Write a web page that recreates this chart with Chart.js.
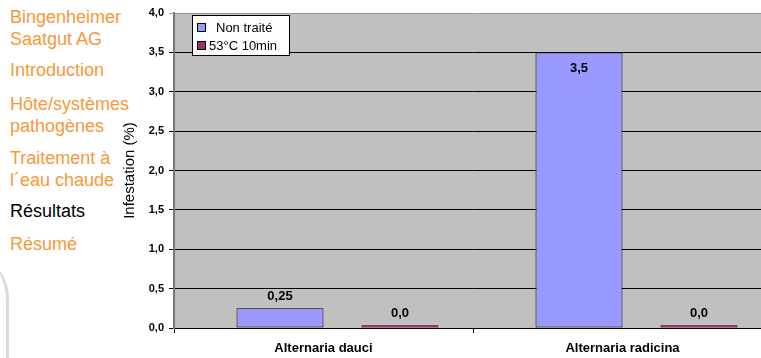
<!DOCTYPE html>
<html>
<head>
<meta charset="utf-8">
<script src="https://cdn.jsdelivr.net/npm/chart.js@4/dist/chart.umd.min.js"></script>
<style>
    html, body { margin: 0; padding: 0; background: #fff; }
    body { width: 761px; height: 358px; overflow: hidden; position: relative; font-family: Arial, "Liberation Sans", sans-serif; }
    .nav { position: absolute; left: 10px; font-size: 18px; line-height: 22px; color: #F7993A; white-space: nowrap; }
    .nav.active { color: #000; }
    .swoosh { position: absolute; left: -40px; top: 250px; width: 46px; height: 160px; border-right: 3px solid rgba(150,150,150,0.35); border-radius: 0 60px 0 0; }
    #wrap { position: absolute; left: 100px; top: 0; width: 672px; height: 358px; }
    #infestationChart { display: block; width: 672px; height: 358px; }
</style>
</head>
<body>
<div class="swoosh"></div>
<div class="nav" style="top:6px">Bingenheimer<br>Saatgut AG</div>
<div class="nav" style="top:59px">Introduction</div>
<div class="nav" style="top:93px">Hôte/systèmes<br>pathogènes</div>
<div class="nav" style="top:147px">Traitement à<br>l´eau chaude</div>
<div class="nav active" style="top:200px">Résultats</div>
<div class="nav" style="top:233px">Résumé</div>
<div id="wrap"><canvas id="infestationChart" width="672" height="358"></canvas></div>
<script>
    // Data
    const categories = ['Alternaria dauci', 'Alternaria radicina'];
    const seriesNames = ['Non traité', '53°C 10min'];
    const untreated = [0.25, 3.5];
    const hotWater = [0.0, 0.0];
    const yTicks = [0, 0.5, 1, 1.5, 2, 2.5, 3, 3.5, 4];

    function fmt(v) {
        const hasTwo = Math.round(v * 100) % 10 !== 0;
        return v.toFixed(hasTwo ? 2 : 1).replace('.', ',');
    }

    // value labels above (or inside, near the top) each bar
    const valueLabels = {
        id: 'valueLabels',
        afterDatasetsDraw(chart) {
            const ctx = chart.ctx;
            const yScale = chart.scales.y;
            ctx.save();
            ctx.font = 'bold 13px Arial, "Liberation Sans"';
            ctx.fillStyle = '#000';
            ctx.textAlign = 'center';
            ctx.textBaseline = 'middle';
            chart.data.datasets.forEach((ds, i) => {
                chart.getDatasetMeta(i).data.forEach((bar, j) => {
                    const v = ds.data[j];
                    let y = bar.y - 12;
                    if (v >= yScale.max * 0.8) y = bar.y + 16;
                    ctx.fillText(fmt(v), bar.x, y);
                });
            });
            ctx.restore();
        }
    };

    // boxed legend inside the plot area, top left
    const boxLegend = {
        id: 'boxLegend',
        afterDraw(chart) {
            const ctx = chart.ctx;
            const a = chart.chartArea;
            const x = a.left + 18, y = a.top + 2, w = 97, h = 40;
            ctx.save();
            ctx.fillStyle = '#fff';
            ctx.fillRect(x, y, w, h);
            ctx.strokeStyle = '#000';
            ctx.lineWidth = 1;
            ctx.strokeRect(x + 0.5, y + 0.5, w, h);
            ctx.font = '13px Arial, "Liberation Sans"';
            ctx.textBaseline = 'middle';
            ctx.textAlign = 'left';
            chart.data.datasets.forEach((ds, i) => {
                const ry = y + 12 + i * 18;
                ctx.fillStyle = ds.backgroundColor;
                ctx.fillRect(x + 5, ry - 4, 8, 8);
                ctx.strokeRect(x + 5.5, ry - 3.5, 8, 8);
                ctx.fillStyle = '#000';
                ctx.fillText(ds.label, x + (i === 0 ? 24 : 17), ry + 1);
            });
            ctx.restore();
        }
    };

    const plotBackground = {
        id: 'plotBackground',
        beforeDraw(chart) {
            const a = chart.chartArea;
            chart.ctx.save();
            chart.ctx.fillStyle = '#C0C0C0';
            chart.ctx.fillRect(a.left, a.top, a.right - a.left, a.bottom - a.top);
            chart.ctx.restore();
        }
    };

    const ctx = document.getElementById('infestationChart').getContext('2d');
    const infestationChart = new Chart(ctx, {
        type: 'bar',
        data: {
            labels: categories,
            datasets: [{
                label: seriesNames[0],
                data: untreated,
                backgroundColor: '#9999FF',
                borderColor: '#000',
                borderWidth: 1,
                borderSkipped: false,
                categoryPercentage: 0.582,
                barPercentage: 1
            }, {
                label: seriesNames[1],
                data: hotWater,
                backgroundColor: '#993366',
                borderWidth: 0,
                minBarLength: 3,
                categoryPercentage: 1.023,
                barPercentage: 0.503
            }]
        },
        options: {
            responsive: false,
            animation: false,
            devicePixelRatio: 1,
            layout: { padding: { top: 13, right: 0, bottom: 0, left: 0 } },
            plugins: {
                legend: { display: false },
                tooltip: { enabled: false }
            },
            scales: {
                x: {
                    offset: true,
                    grid: { offset: true, drawOnChartArea: false, color: '#000', tickLength: 5 },
                    border: { color: '#000', width: 1 },
                    ticks: { color: '#000', font: { family: 'Arial, "Liberation Sans"', size: 13, weight: 'bold' }, padding: 8 },
                    afterFit(scale) { scale.height = 30; }
                },
                y: {
                    min: 0,
                    max: 4,
                    afterBuildTicks(scale) { scale.ticks = yTicks.map(v => ({ value: v })); },
                    grid: {
                        color: c => (c.tick && c.tick.value === 4) ? '#9a9a9a' : '#000',
                        tickLength: 5
                    },
                    border: { color: '#777', width: 2 },
                    ticks: {
                        color: '#000',
                        padding: 5,
                        font: { family: 'Arial, "Liberation Sans"', size: 11, weight: 'bold' },
                        callback: v => v.toFixed(1).replace('.', ',')
                    },
                    title: {
                        display: true,
                        text: 'Infestation (%)',
                        color: '#000',
                        font: { family: 'Arial, "Liberation Sans"', size: 15 },
                        padding: { top: 21, bottom: 0 }
                    },
                    afterFit(scale) { scale.width = 74; }
                }
            }
        },
        plugins: [plotBackground, valueLabels, boxLegend]
    });
</script>
</body>
</html>
